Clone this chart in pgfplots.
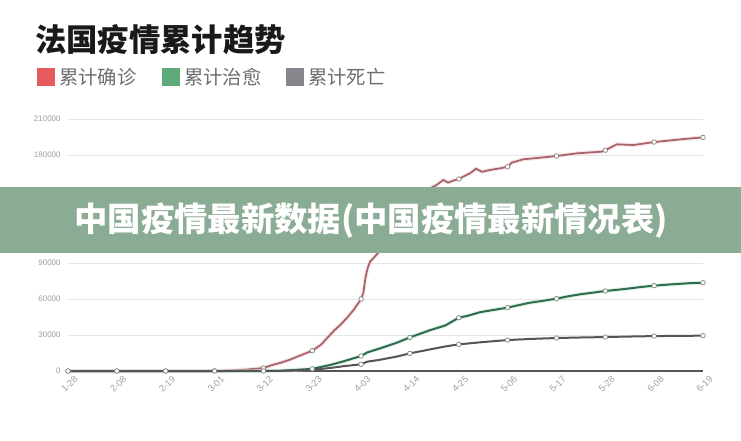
\documentclass[border=0pt]{standalone}
\usepackage{fontspec}
\setmainfont{Liberation Sans}
\newfontfamily\cjk{Noto Sans CJK SC}
\usepackage{pgfplots}
\pgfplotsset{compat=1.18}
\definecolor{linered}{RGB}{168,98,104}
\definecolor{halored}{RGB}{242,205,210}
\definecolor{linegreen}{RGB}{46,110,78}
\definecolor{halogreen}{RGB}{200,232,212}
\definecolor{linegray}{RGB}{85,85,85}
\definecolor{legred}{RGB}{229,90,92}
\definecolor{leggreen}{RGB}{94,170,120}
\definecolor{leggray}{RGB}{134,134,140}
\definecolor{banner}{RGB}{139,172,148}
\definecolor{ticktext}{RGB}{160,160,160}
\definecolor{legtext}{RGB}{110,110,110}
\begin{document}
\begin{tikzpicture}[x=0.75pt,y=-0.75pt]
\useasboundingbox (0,0) rectangle (741,440);
\fill[white] (0,0) rectangle (741,440);
\node[anchor=west, inner sep=0pt, text=black!90] at (35,40) {\cjk\bfseries\fontsize{23.5}{24}\selectfont 法国疫情累计趋势};
\fill[legred] (37,68) rectangle (55,86);
\node[anchor=west, inner sep=0pt, text=legtext] at (59,77.5) {\cjk\fontsize{14.5}{15}\selectfont 累计确诊};
\fill[leggreen] (162,68) rectangle (180,86);
\node[anchor=west, inner sep=0pt, text=legtext] at (184,77.5) {\cjk\fontsize{14.5}{15}\selectfont 累计治愈};
\fill[leggray] (286,68) rectangle (304,86);
\node[anchor=west, inner sep=0pt, text=legtext] at (308,77.5) {\cjk\fontsize{14.5}{15}\selectfont 累计死亡};
\begin{axis}[
  at={(51pt,-278.25pt)}, anchor=south west,
  scale only axis, width=476.25pt, height=189pt,
  xmin=0, xmax=143, ymin=0, ymax=210000,
  xtick={0,11,...,143},
  xticklabels={1-28,2-08,2-19,3-01,3-12,3-23,4-03,4-14,4-25,5-06,5-17,5-28,6-08,6-19},
  ytick={0,30000,...,210000},
  scaled y ticks=false,
  /pgf/number format/assume math mode=true,
  yticklabel style={/pgf/number format/fixed, /pgf/number format/1000 sep={}, font=\fontsize{6}{7}\selectfont, text=ticktext, xshift=-2pt},
  xticklabel style={rotate=45, anchor=north east, inner sep=1pt, font=\fontsize{7}{8}\selectfont, text=ticktext, xshift=2pt, yshift=-4pt},
  axis lines*=left,
  y axis line style={draw=none},
  x axis line style={draw=linegray, line width=1pt, -},
  tick style={draw=none},
  major tick length=0pt,
  ymajorgrids, grid style={draw=black!10, line width=0.5pt},
  clip=false,
]
% confirmed
\addplot[halored, line width=3pt, opacity=0.5] coordinates {
(0,0)(11,0)(22,0)(33,130)(36,300)(38,700)(40,1200)(42,1800)(44,2500)(46,5000)(48,7000)(50,9500)(52,12500)(55,16900)(57,22000)(58.3,27200)(60,34000)(61.3,38300)(63,45000)(64.3,50800)(66,60000)(66.5,65000)(67,78000)(67.5,86000)(68,91000)(69,95000)(70,99000)(72,112000)(74,126000)(76,138000)(77,143000)(78,146000)(79.3,147500)(81.5,152200)(83,155000)(84.5,159200)(85.6,157000)(86.7,158600)(88,160000)(89,162000)(90.5,164700)(91.9,168600)(93.2,166000)(95,167500)(97.3,168900)(99,170200)(99.9,173600)(102.5,176400)(107,178000)(110,179200)(114.6,181400)(120.2,182800)(121,184000)(123.6,188900)(127.3,188300)(132,190800)(137.8,193000)(143,194700)};
\addplot[linered, line width=1.3pt] coordinates {
(0,0)(11,0)(22,0)(33,130)(36,300)(38,700)(40,1200)(42,1800)(44,2500)(46,5000)(48,7000)(50,9500)(52,12500)(55,16900)(57,22000)(58.3,27200)(60,34000)(61.3,38300)(63,45000)(64.3,50800)(66,60000)(66.5,65000)(67,78000)(67.5,86000)(68,91000)(69,95000)(70,99000)(72,112000)(74,126000)(76,138000)(77,143000)(78,146000)(79.3,147500)(81.5,152200)(83,155000)(84.5,159200)(85.6,157000)(86.7,158600)(88,160000)(89,162000)(90.5,164700)(91.9,168600)(93.2,166000)(95,167500)(97.3,168900)(99,170200)(99.9,173600)(102.5,176400)(107,178000)(110,179200)(114.6,181400)(120.2,182800)(121,184000)(123.6,188900)(127.3,188300)(132,190800)(137.8,193000)(143,194700)};
% recovered
\addplot[halogreen, line width=3pt, opacity=0.5] coordinates {
(0,0)(11,0)(22,0)(33,0)(44,0)(48,200)(51.5,1000)(55,1800)(59,5000)(62,8000)(66,12500)(67.4,15500)(70.3,18900)(74,23500)(77,28000)(81.5,34000)(85,38000)(88,44400)(90,46000)(92.8,49000)(96,51000)(99,52800)(101,54500)(104,56900)(107,58500)(110,60300)(113,62500)(115.3,63900)(118,65200)(121,66700)(124,67800)(126.6,68900)(129,70000)(132,71100)(135,72000)(138,72700)(140,73200)(143,73600)};
\addplot[linegreen, line width=1.5pt] coordinates {
(0,0)(11,0)(22,0)(33,0)(44,0)(48,200)(51.5,1000)(55,1800)(59,5000)(62,8000)(66,12500)(67.4,15500)(70.3,18900)(74,23500)(77,28000)(81.5,34000)(85,38000)(88,44400)(90,46000)(92.8,49000)(96,51000)(99,52800)(101,54500)(104,56900)(107,58500)(110,60300)(113,62500)(115.3,63900)(118,65200)(121,66700)(124,67800)(126.6,68900)(129,70000)(132,71100)(135,72000)(138,72700)(140,73200)(143,73600)};
% deaths
\addplot[linegray, line width=1.5pt] coordinates {
(0,0)(11,0)(22,0)(33,0)(44,50)(48,200)(51.5,500)(55,1000)(59,2500)(62,4000)(66,5600)(67.4,7800)(70,9200)(74,12000)(77,14700)(81.5,18000)(85,20500)(88,22200)(92.8,23900)(96,24900)(99,25800)(104,26700)(110,27500)(115,27900)(121,28300)(126,28700)(132,29100)(138,29300)(143,29450)};
% markers
\addplot[only marks, mark=*, mark size=1.7pt, mark options={fill=white, draw=gray, line width=0.5pt}] coordinates {
(0,0)(11,0)(22,0)(33,130)(44,2500)(55,16900)(66,60000)(77,143000)(88,160000)(99,170200)(110,179200)(121,184000)(132,190800)(143,194700)};
\addplot[only marks, mark=*, mark size=1.7pt, mark options={fill=white, draw=gray, line width=0.5pt}] coordinates {
(55,1800)(66,12500)(77,28000)(88,44400)(99,52800)(110,60300)(121,66700)(132,71100)(143,73600)};
\addplot[only marks, mark=*, mark size=1.7pt, mark options={fill=white, draw=gray, line width=0.5pt}] coordinates {
(0,0)(11,0)(22,0)(33,0)(44,50)(66,5600)(77,14700)(88,22200)(99,25800)(110,27500)(121,28300)(132,29100)(143,29450)};
\end{axis}
\fill[banner] (0,187) rectangle (741,253);
\node[inner sep=0pt, text=white] at (371,221) {\cjk\bfseries\fontsize{25}{26}\selectfont 中国疫情最新数据(中国疫情最新情况表)};
\end{tikzpicture}
\end{document}
